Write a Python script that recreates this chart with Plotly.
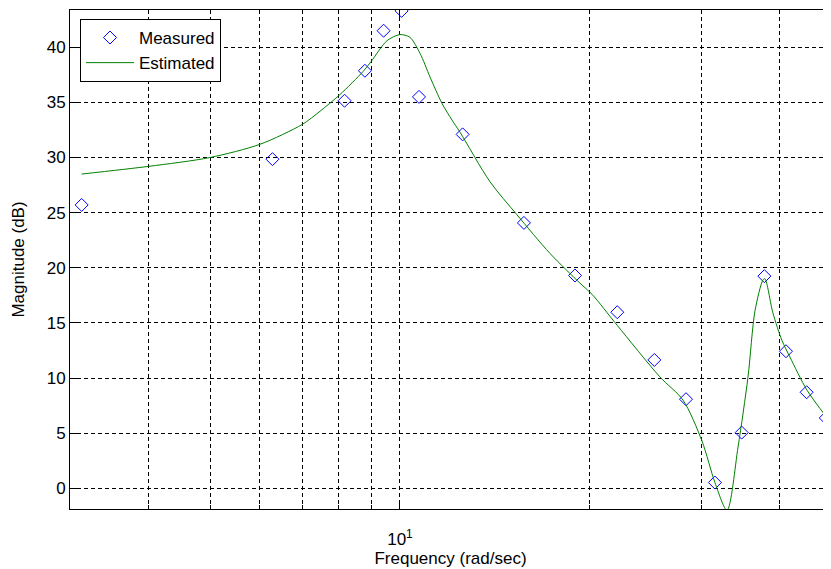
import plotly.graph_objects as go

# Measured data (frequency rad/sec, magnitude dB)
meas_freq = [3.13, 6.28, 8.17, 8.80, 9.42, 10.06, 10.72, 12.57, 15.72, 18.94,
             22.1, 25.3, 28.4, 31.56, 34.8, 37.8, 40.9, 44.1, 47.3]
meas_mag = [25.7, 29.85, 35.15, 37.87, 41.5, 43.3, 35.5, 32.1, 24.07, 19.3,
            15.97, 11.64, 8.08, 0.52, 5.05, 19.24, 12.43, 8.71, 6.38]

# Estimated model curve
est_freq = [3.13, 4.0, 5.0, 6.0, 7.0, 7.47, 8.03, 8.74, 9.0, 9.54, 10.0, 10.37,
            10.76, 11.16, 11.66, 12.09, 12.45, 13.89, 15.33, 17.29, 19.29, 20.15,
            22.08, 25.82, 28.09, 30.1, 31.57, 32.98, 34.34, 35.61, 36.53, 37.61,
            37.88, 39.0, 40.31, 41.5, 44.16, 47.51]
est_mag = [28.5, 29.2, 30.0, 31.2, 33.0, 34.2, 35.7, 37.8, 38.7, 40.6, 41.15, 40.9,
           39.45, 37.3, 34.9, 33.4, 32.3, 27.8, 24.8, 21.3, 18.6, 17.6,
           14.8, 10.1, 8.0, 4.3, 0.5, -2.0, 3.75, 10.1, 16.1, 18.9,
           19.0, 15.9, 13.4, 11.9, 8.9, 6.4]

x_major_ticks = [10]
x_major_labels = ["10<sup>1</sup>"]
x_minor_ticks = [4, 5, 6, 7, 8, 9, 20, 30, 40]
y_tickvals = [0, 5, 10, 15, 20, 25, 30, 35, 40]

FONT = "Liberation Sans, Arial, sans-serif"
DASH = "4px,3px"

fig = go.Figure()
fig.add_trace(go.Scatter(
    x=meas_freq, y=meas_mag, mode="markers", name="Measured",
    marker=dict(symbol="diamond-open", size=10, color="#0000FF",
                line=dict(width=1, color="#0000FF")),
))
fig.add_trace(go.Scatter(
    x=est_freq, y=est_mag, mode="lines", name="Estimated",
    line=dict(color="#008000", width=1, shape="spline", smoothing=0.8),
))

# page body has an 8px margin: figure is shrunk/offset so the plot lands in place
fig.update_layout(
    width=823, height=561,
    margin=dict(l=62, r=0, t=2, b=60, autoexpand=False),
    paper_bgcolor="white", plot_bgcolor="white",
    font=dict(family=FONT, size=17, color="black"),
    showlegend=True,
    legend=dict(x=0.0131, y=0.982, xanchor="left", yanchor="top",
                bgcolor="white", bordercolor="black", borderwidth=1,
                font=dict(size=17), itemwidth=48, tracegroupgap=0),
)
fig.update_xaxes(
    type="log", range=[0.4771, 1.6831], automargin=False,
    tickvals=x_major_ticks, ticktext=x_major_labels, ticklabelstandoff=15,
    showgrid=True, gridcolor="black", griddash=DASH, gridwidth=1,
    minor=dict(tickvals=x_minor_ticks, showgrid=True, gridcolor="black",
               griddash=DASH, gridwidth=1, ticks="inside", ticklen=4,
               tickcolor="black"),
    showline=True, linecolor="black", linewidth=1, mirror="ticks",
    ticks="inside", ticklen=7, tickcolor="black",
    title=dict(text="Frequency (rad/sec)", standoff=2, font=dict(size=17)),
    zeroline=False,
)
fig.update_yaxes(
    range=[-1.88, 43.38], tickvals=y_tickvals, automargin=False,
    showgrid=True, gridcolor="black", griddash=DASH, gridwidth=1,
    showline=True, linecolor="black", linewidth=1,
    ticks="inside", ticklen=7, tickcolor="black",
    title=dict(text="Magnitude (dB)", standoff=17, font=dict(size=17)),
    zeroline=False,
)

fig.write_html("out.html")
